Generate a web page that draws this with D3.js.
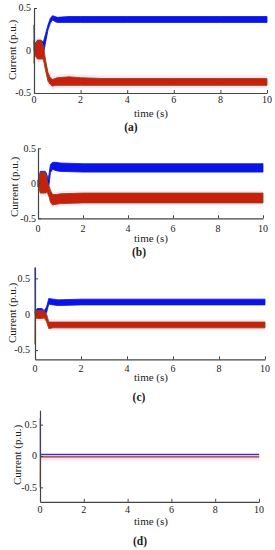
<!DOCTYPE html>
<html><head><meta charset="utf-8">
<script src="https://cdn.jsdelivr.net/npm/d3@7"></script>
<style>
html,body{margin:0;padding:0;background:#fff;}
svg{display:block;}
</style></head>
<body><svg id="c" width="275" height="550"></svg>
<script>
// ---- data ----
const xTicks = [0, 2, 4, 6, 8, 10];
const xTickLabels = ["0", "2", "4", "6", "8", "10"];
const yTicks = [-0.5, 0, 0.5];
const yTickLabels = ["-0.5", "0", "0.5"];
const xLabel = "time (s)";
const yLabel = "Current (p.u.)";
const captions = ["(a)", "(b)", "(c)", "(d)"];

// panel (a) envelopes (time, upper, lower)
const tA       = [0, 0.01, 0.03, 0.1, 0.15, 0.3, 0.4, 0.5, 0.6, 0.7, 0.8, 0.9, 1.0, 1.5, 2, 3, 4, 6, 8, 10];
const blueHiA  = [0.3, 0.3, 0.08, 0.1, 0.12, 0.12, 0.1, 0.2, 0.3, 0.38, 0.41, 0.4, 0.39, 0.40, 0.40, 0.40, 0.40, 0.40, 0.40, 0.40];
const blueLoA  = [0.0, 0.0, -0.03, -0.06, -0.08, -0.08, -0.05, 0.1, 0.24, 0.32, 0.36, 0.34, 0.33, 0.33, 0.33, 0.33, 0.33, 0.33, 0.33, 0.33];
const redHiA   = [0.12, 0.12, 0.05, 0.1, 0.12, 0.12, 0.06, -0.12, -0.26, -0.32, -0.34, -0.33, -0.32, -0.31, -0.32, -0.33, -0.33, -0.33, -0.33, -0.33];
const redLoA   = [-0.15, -0.15, -0.05, -0.08, -0.1, -0.1, -0.1, -0.24, -0.36, -0.4, -0.42, -0.41, -0.41, -0.41, -0.41, -0.41, -0.41, -0.41, -0.41, -0.41];

// panel (b)
const tB       = [0, 0.01, 0.03, 0.1, 0.3, 0.35, 0.4, 0.45, 0.5, 0.55, 0.65, 0.8, 1.0, 2, 4, 6, 8, 10];
const blueHiB  = [0.05, 0.05, 0.05, 0.17, 0.17, 0.16, 0.12, 0.05, 0.15, 0.27, 0.3, 0.3, 0.29, 0.28, 0.28, 0.28, 0.28, 0.28];
const blueLoB  = [-0.05, -0.05, 0.0, 0.08, 0.08, 0.06, 0.0, -0.1, 0.0, 0.15, 0.2, 0.18, 0.17, 0.16, 0.16, 0.16, 0.16, 0.16];
const redHiB   = [0.05, 0.05, 0.05, 0.15, 0.15, 0.15, 0.05, -0.02, -0.05, -0.1, -0.16, -0.16, -0.15, -0.14, -0.14, -0.14, -0.14, -0.14];
const redLoB   = [-0.05, -0.05, -0.05, -0.14, -0.14, -0.14, -0.12, -0.16, -0.2, -0.27, -0.31, -0.3, -0.29, -0.28, -0.28, -0.28, -0.28, -0.28];

// panel (c)
const tC       = [0, 0.01, 0.02, 0.1, 0.3, 0.4, 0.5, 0.6, 0.8, 1.0, 2, 4, 6, 8, 10];
const blueHiC  = [0.65, 0.65, 0.05, 0.08, 0.08, 0.05, 0.1, 0.22, 0.21, 0.2, 0.21, 0.21, 0.21, 0.21, 0.21];
const blueLoC  = [0.0, 0.0, 0.0, 0.0, 0.0, -0.02, 0.02, 0.14, 0.13, 0.12, 0.13, 0.13, 0.13, 0.13, 0.13];
const redHiC   = [0.05, 0.05, 0.05, 0.05, 0.05, 0.04, 0.0, -0.11, -0.11, -0.11, -0.11, -0.11, -0.11, -0.11, -0.11];
const redLoC   = [-0.42, -0.42, -0.05, -0.06, -0.06, -0.05, -0.1, -0.2, -0.19, -0.19, -0.19, -0.19, -0.19, -0.19, -0.19];

// panel (d)
const tD       = [0, 0.01, 0.02, 2, 4, 6, 8, 10];
const blueHiD  = [0.6, 0.6, 0.03, 0.03, 0.03, 0.03, 0.03, 0.03];
const blueLoD  = [0.0, 0.0, 0.018, 0.018, 0.018, 0.018, 0.018, 0.018];
const redHiD   = [0.0, 0.0, -0.008, -0.008, -0.008, -0.008, -0.008, -0.008];
const redLoD   = [-0.5, -0.5, -0.02, -0.02, -0.02, -0.02, -0.02, -0.02];

// ---- layout ----
const FONT = "'Liberation Serif', 'DejaVu Serif', serif";
const panels = [
  {t:tA, bh:blueHiA, bl:blueLoA, rh:redHiA, rl:redLoA, x0:34, x1:267, yDom:[-0.5,0.5],  yRng:[93,8],      tickY:103, labY:117, capY:131, capX:131, yLabX:12, yLabY:50, yTickEnd:31, sw:0.8, halo:0.035},
  {t:tB, bh:blueHiB, bl:blueLoB, rh:redHiB, rl:redLoB, x0:38, x1:263, yDom:[-0.5,0.5],  yRng:[218.3,148.3], tickY:232, labY:242, capY:256, capX:139, yLabX:14, yLabY:187, yTickEnd:36, sw:0.8, halo:0.035},
  {t:tC, bh:blueHiC, bl:blueLoC, rh:redHiC, rl:redLoC, x0:35, x1:265, yDom:[-0.63,0.65],yRng:[359.4,267.6], tickY:372, labY:381, capY:401, capX:139, yLabX:12, yLabY:313, yTickEnd:30, sw:0.8, halo:0.035},
  {t:tD, bh:blueHiD, bl:blueLoD, rh:redHiD, rl:redLoD, x0:40, x1:259, yDom:[-0.73,0.73],yRng:[501.8,410.2], tickY:513, labY:525, capY:545, capX:140, yLabX:17, yLabY:455, yTickEnd:37, sw:0.4, halo:0.05}
];

const svg = d3.select("#c");

function txt(g, x, y, s, size, anchor) {
  return g.append("text").attr("x", x).attr("y", y).attr("text-anchor", anchor || "middle")
    .attr("font-family", FONT).attr("font-size", size).attr("fill", "#222").text(s);
}

panels.forEach((p, i) => {
  const x = d3.scaleLinear().domain([0, 10]).range([p.x0, p.x1]);
  const y = d3.scaleLinear().domain(p.yDom).range(p.yRng);
  const g = svg.append("g");
  const idx = d3.range(p.t.length);

  // pink halo behind red band
  const halo = d3.area().x(k => x(p.t[k])).y0(k => y(p.rl[k] - p.halo)).y1(k => y(p.rh[k] + p.halo));
  g.append("path").datum(idx).attr("d", halo).attr("fill", "#fde3f3");

  const blueArea = d3.area().x(k => x(p.t[k])).y0(k => y(p.bl[k])).y1(k => y(p.bh[k]));
  g.append("path").datum(idx).attr("d", blueArea)
    .attr("fill", "#0a14e6").attr("stroke", "#0a14e6").attr("stroke-width", p.sw);

  const redArea = d3.area().x(k => x(p.t[k])).y0(k => y(p.rl[k])).y1(k => y(p.rh[k]));
  g.append("path").datum(idx).attr("d", redArea)
    .attr("fill", "#c8200c").attr("stroke", "#8a4a14").attr("stroke-width", p.sw + 0.1);

  // axes
  const xAxis = d3.axisBottom(x).tickValues(xTicks).tickFormat("").tickSizeInner(-3).tickSizeOuter(0);
  const gx = g.append("g").attr("transform", `translate(0,${p.yRng[0]})`).call(xAxis);
  gx.select(".domain").attr("stroke", "#444").attr("stroke-width", 1.2);
  gx.selectAll(".tick line").attr("stroke", "#444");
  xTicks.forEach((v, j) => txt(g, x(v), p.tickY, xTickLabels[j], 10));

  const yAxis = d3.axisLeft(y).tickValues(yTicks).tickSizeInner(-3).tickSizeOuter(0).tickFormat("");
  const gy = g.append("g").attr("transform", `translate(${p.x0},0)`).call(yAxis);
  gy.select(".domain").attr("stroke", "#444").attr("stroke-width", 1.2);
  gy.selectAll(".tick line").attr("stroke", "#444");
  yTicks.forEach((v, j) => txt(g, p.yTickEnd, y(v) + 3.4, yTickLabels[j], 10, "end"));

  txt(g, 151, p.labY, xLabel, 11);
  g.append("text").attr("transform", `translate(${p.yLabX + 3.5},${p.yLabY}) rotate(-90)`)
    .attr("text-anchor", "middle").attr("font-family", FONT).attr("font-size", 11)
    .attr("fill", "#222").text(yLabel);
  txt(g, p.capX, p.capY, captions[i], 11.5).attr("font-weight", "bold");
});
</script>
</body></html>
